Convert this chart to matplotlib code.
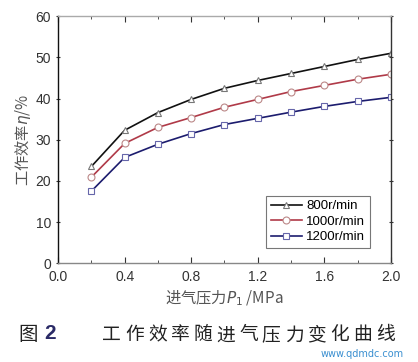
import matplotlib
matplotlib.use('Agg')
import matplotlib.pyplot as plt
from matplotlib.ticker import MultipleLocator

plt.rcParams['font.family'] = ['Liberation Sans', 'Noto Sans CJK SC', 'DejaVu Sans']

# 数据
pressure = [0.2, 0.4, 0.6, 0.8, 1.0, 1.2, 1.4, 1.6, 1.8, 2.0]
eff_800 = [23.5, 32.3, 36.6, 39.8, 42.5, 44.4, 46.1, 47.8, 49.5, 51.0]
eff_1000 = [20.9, 29.1, 33.0, 35.4, 37.9, 39.8, 41.7, 43.2, 44.7, 45.9]
eff_1200 = [17.5, 25.7, 28.9, 31.5, 33.7, 35.2, 36.7, 38.1, 39.3, 40.3]
labels = ['800r/min', '1000r/min', '1200r/min']

fig = plt.figure(figsize=(4.18, 3.62), dpi=100)
ax = fig.add_axes([0.139, 0.273, 0.796, 0.682])

ax.plot(pressure, eff_800, color='#111111', lw=1.2, marker='^', ms=5,
        mfc='white', mec='#777777', mew=0.8, label=labels[0])
ax.plot(pressure, eff_1000, color='#b03a48', lw=1.2, marker='o', ms=5,
        mfc='white', mec='#bb8888', mew=0.8, label=labels[1])
ax.plot(pressure, eff_1200, color='#1c1c6e', lw=1.2, marker='s', ms=4.5,
        mfc='white', mec='#6666aa', mew=0.8, label=labels[2])

ax.set_xlim(0, 2.0)
ax.set_ylim(0, 60)
ax.xaxis.set_major_locator(MultipleLocator(0.4))
ax.xaxis.set_minor_locator(MultipleLocator(0.2))
ax.yaxis.set_major_locator(MultipleLocator(10))
ax.yaxis.set_minor_locator(MultipleLocator(5))
ax.xaxis.set_major_formatter(plt.FuncFormatter(lambda v, p: f'{v:.1f}'))

ax.tick_params(axis='x', which='both', direction='in', top=True, labelsize=10,
               colors='#333333', pad=5)
ax.tick_params(axis='y', which='both', direction='out', labelsize=10,
               colors='#333333')
ax.tick_params(axis='x', which='major', length=4)
ax.tick_params(axis='x', which='minor', length=2)
ax.tick_params(axis='y', which='major', length=3)
ax.tick_params(axis='y', which='minor', length=0)
ax.tick_params(axis='y', which='both', right=True)
ax.tick_params(axis='y', which='both', direction='inout')

ax.spines['left'].set_color('#111111')
ax.spines['right'].set_color('#333333')
ax.spines['top'].set_color('#aaaaaa')
ax.spines['bottom'].set_color('#888888')
for s in ax.spines.values():
    s.set_linewidth(1.0)

leg = ax.legend(loc='lower right', bbox_to_anchor=(0.937, 0.061), fontsize=9.5,
                frameon=True, fancybox=False, edgecolor='#555555',
                handlelength=2.4, handletextpad=0.3, borderpad=0.35,
                labelspacing=0.25, borderaxespad=0)
leg.get_frame().set_linewidth(0.8)

ax.set_ylabel('工作效率$\\eta$/%', family=['Noto Sans CJK SC', 'DejaVu Sans'],
              fontsize=11, color='#555555', labelpad=2)
ax.set_xlabel('进气压力$P_1$ /MPa', family=['Noto Sans CJK SC', 'DejaVu Sans'],
              fontsize=11, color='#555555', labelpad=3)

# 图题
fig.text(0.045, 0.075, '图', family='Noto Sans CJK SC', fontsize=14,
         color='#222222', va='center')
fig.text(0.107, 0.079, '2', family='Liberation Sans', fontsize=15,
         fontweight='bold', color='#2a2a66', va='center')
caption = '工作效率随进气压力变化曲线'
for i, ch in enumerate(caption):
    fig.text(0.245 + i * 0.0545, 0.075, ch, family='Noto Sans CJK SC',
             fontsize=13.5, color='#222222', va='center')
fig.text(0.965, 0.022, 'www.qdmdc.com', family='DejaVu Sans', fontsize=7,
         color='#3a8fd0', ha='right', va='center')

fig.savefig('out.png', dpi=100)
